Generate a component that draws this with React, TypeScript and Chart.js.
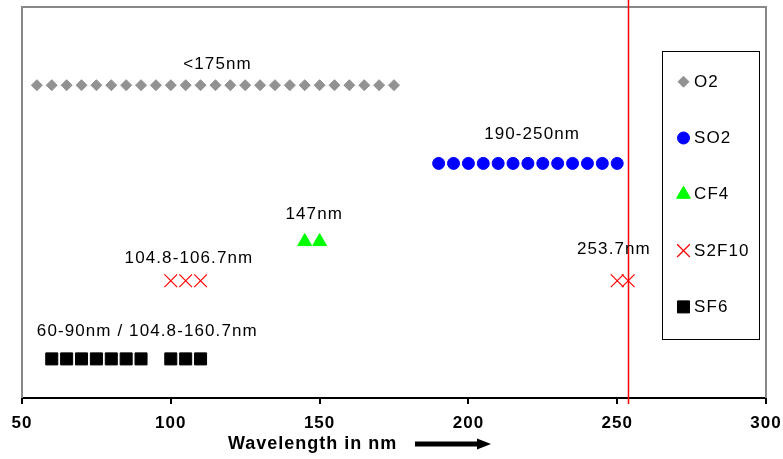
import React, { useEffect, useRef } from 'react';
import { Chart, registerables } from 'chart.js';
import { drawPoint } from 'chart.js/helpers';

Chart.register(...registerables);

// ---- axis ----
const X_MIN = 50;
const X_MAX = 300;
const X_STEP = 50;
const Y_MIN = 0;
const Y_MAX = 10;
const X_TITLE = 'Wavelength in nm';

// ---- series ----
const seriesNames = ['O2', 'SO2', 'CF4', 'S2F10', 'SF6'];
const o2X = [55, 60, 65, 70, 75, 80, 85, 90, 95, 100, 105, 110, 115, 120, 125, 130, 135, 140, 145, 150, 155, 160, 165, 170, 175];
const o2Y = [8, 8, 8, 8, 8, 8, 8, 8, 8, 8, 8, 8, 8, 8, 8, 8, 8, 8, 8, 8, 8, 8, 8, 8, 8];
const so2X = [190, 195, 200, 205, 210, 215, 220, 225, 230, 235, 240, 245, 250];
const so2Y = [6, 6, 6, 6, 6, 6, 6, 6, 6, 6, 6, 6, 6];
const cf4X = [145, 150];
const cf4Y = [4, 4];
const s2f10X = [100, 105, 110, 250, 253.7];
const s2f10Y = [3, 3, 3, 3, 3];
const sf6X = [60, 65, 70, 75, 80, 85, 90, 100, 105, 110];
const sf6Y = [1, 1, 1, 1, 1, 1, 1, 1, 1, 1];

// ---- annotations ----
const noteTexts = ['<175nm', '190-250nm', '147nm', '104.8-106.7nm', '253.7nm', '60-90nm / 104.8-160.7nm'];
const noteX = [115.7, 221.4, 148.2, 106.1, 248.9, 92.1];
const noteY = [8.54, 6.75, 4.7, 3.58, 3.79, 1.71];
const markerLineX = 253.7;

const FONT = "'Liberation Sans', Arial, sans-serif";

function pts(xs: number[], ys: number[]) {
  return xs.map((x, i) => ({ x, y: ys[i] }));
}

const styles = [
  { pointStyle: 'rectRot', radius: 5.5, color: '#929292', border: 1 },
  { pointStyle: 'circle', radius: 6, color: '#0000ff', border: 1 },
  { pointStyle: 'triangle', radius: 8, color: '#00ff00', border: 1 },
  { pointStyle: 'crossRot', radius: 9, color: '#ff0000', border: 1.2 },
  { pointStyle: 'rect', radius: 8.5, color: '#000000', border: 1 },
];

const overlayPlugin = {
  id: 'overlay',
  beforeDraw(chart: any) {
    chart.ctx.letterSpacing = '1px';
  },
  beforeDatasetsDraw(chart: any) {
    const { ctx, chartArea } = chart;
    ctx.save();
    ctx.letterSpacing = '0px';
    ctx.strokeStyle = '#888888';
    ctx.lineWidth = 2;
    ctx.beginPath();
    ctx.moveTo(chartArea.left, chartArea.bottom);
    ctx.lineTo(chartArea.left, chartArea.top);
    ctx.lineTo(chartArea.right, chartArea.top);
    ctx.lineTo(chartArea.right, chartArea.bottom);
    ctx.stroke();
    const xs = chart.scales.x;
    const px = Math.round(xs.getPixelForValue(markerLineX)) + 0.5;
    ctx.strokeStyle = '#ff0000';
    ctx.lineWidth = 1.5;
    ctx.beginPath();
    ctx.moveTo(px, 0);
    ctx.lineTo(px, chartArea.bottom + 6);
    ctx.stroke();
    ctx.restore();
  },
  afterDraw(chart: any) {
    const { ctx, chartArea } = chart;
    const xs = chart.scales.x;
    const ys = chart.scales.y;
    ctx.save();
    ctx.letterSpacing = '1.1px';
    ctx.font = `17px ${FONT}`;
    ctx.fillStyle = '#000';
    ctx.textAlign = 'center';
    ctx.textBaseline = 'middle';
    noteTexts.forEach((t, i) => {
      ctx.fillText(t, xs.getPixelForValue(noteX[i]), ys.getPixelForValue(noteY[i]));
    });
    // axis title + arrow
    ctx.font = `bold 18px ${FONT}`;
    ctx.letterSpacing = '1px';
    ctx.textAlign = 'left';
    const ty = chartArea.bottom + 46;
    ctx.fillText(X_TITLE, 228, ty);
    ctx.letterSpacing = '0px';
    ctx.fillRect(415, ty - 2.5, 64, 5);
    ctx.beginPath();
    ctx.moveTo(477, ty - 5.5);
    ctx.lineTo(491, ty);
    ctx.lineTo(477, ty + 5.5);
    ctx.closePath();
    ctx.fill();
    // legend
    const bx = 662.5, by = 51.5, bw = 97, bh = 288;
    ctx.fillStyle = '#ffffff';
    ctx.fillRect(bx, by, bw, bh);
    ctx.strokeStyle = '#000';
    ctx.lineWidth = 1;
    ctx.strokeRect(bx, by, bw, bh);
    ctx.font = `17px ${FONT}`;
    ctx.textAlign = 'left';
    ctx.textBaseline = 'middle';
    chart.data.datasets.forEach((ds: any, i: number) => {
      const ey = 81.7 + i * 56.3;
      ctx.fillStyle = ds.backgroundColor;
      ctx.strokeStyle = ds.borderColor;
      ctx.lineWidth = ds.borderWidth;
      ctx.letterSpacing = '0px';
      drawPoint(ctx, { pointStyle: ds.pointStyle, radius: ds.pointRadius, borderWidth: ds.borderWidth, rotation: 0 }, 683.5, ey);
      ctx.letterSpacing = '1.1px';
      ctx.fillStyle = '#000';
      ctx.fillText(ds.label, 694, ey + 0.5);
    });
    ctx.restore();
    ctx.letterSpacing = '0px';
  },
};

export default function App() {
  const ref = useRef<HTMLCanvasElement | null>(null);
  useEffect(() => {
    if (!ref.current) return;
    const allX = [o2X, so2X, cf4X, s2f10X, sf6X];
    const allY = [o2Y, so2Y, cf4Y, s2f10Y, sf6Y];
    const chart = new Chart(ref.current, {
      type: 'scatter',
      data: {
        datasets: seriesNames.map((name, i) => ({
          label: name,
          data: pts(allX[i], allY[i]),
          pointStyle: styles[i].pointStyle as any,
          pointRadius: styles[i].radius,
          backgroundColor: styles[i].color,
          borderColor: styles[i].color,
          borderWidth: styles[i].border,
          showLine: false,
          clip: false as any,
        })),
      },
      options: {
        animation: false,
        responsive: false,
        events: [],
        layout: { autoPadding: false, padding: { left: 22, right: 17, top: 7, bottom: 0 } },
        plugins: { legend: { display: false }, tooltip: { enabled: false } },
        scales: {
          x: {
            type: 'linear',
            min: X_MIN,
            max: X_MAX,
            afterFit: (axis: any) => { axis.height = 61; },
            ticks: {
              stepSize: X_STEP,
              color: '#000',
              padding: 2,
              font: { family: FONT, size: 17, weight: 'bold', lineHeight: 2 },
            },
            grid: { drawOnChartArea: false, drawTicks: true, tickLength: 6, color: '#000', lineWidth: 2 },
            border: { display: true, color: '#000', width: 2 },
          },
          y: { display: false, min: Y_MIN, max: Y_MAX },
        },
      },
      plugins: [overlayPlugin],
    });
    return () => chart.destroy();
  }, []);
  return (
    <div style={{ position: 'fixed', left: 0, top: 0, width: 783, height: 459, background: '#fff' }}>
      <canvas ref={ref} width={783} height={459} />
    </div>
  );
}
